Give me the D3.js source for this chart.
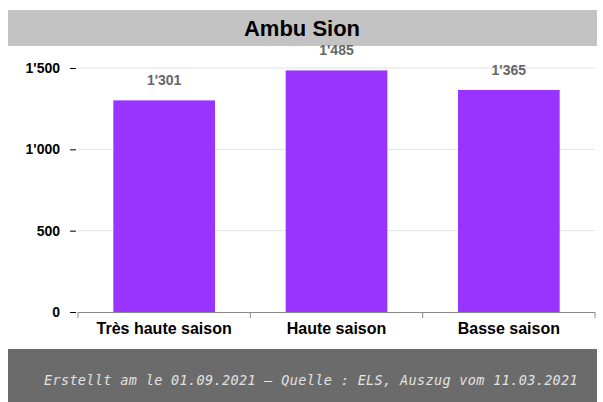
<!DOCTYPE html>
<html><head><meta charset="utf-8">
<script src="https://cdnjs.cloudflare.com/ajax/libs/d3/7.8.5/d3.min.js"></script>
<style>html,body{margin:0;padding:0;background:#fff;}svg{display:block;}</style>
</head><body>
<script>
const categories = ["Très haute saison", "Haute saison", "Basse saison"];
const values = [1301, 1485, 1365];
const yTicks = [0, 500, 1000, 1500];
const title = "Ambu Sion";
const footer = "Erstellt am le 01.09.2021 – Quelle : ELS, Auszug vom 11.03.2021";

const W = 603, H = 402;
const svg = d3.select("body").append("svg").attr("width", W).attr("height", H);
const fmt = v => d3.format(",")(v).replace(/,/g, "'");

// title band
svg.append("rect").attr("x", 8).attr("y", 10).attr("width", 589).attr("height", 36).attr("fill", "#c3c3c3");
svg.append("text").attr("x", 302).attr("y", 36).attr("text-anchor", "middle")
  .attr("font-family", "Liberation Sans, Arial, sans-serif").attr("font-weight", "bold")
  .attr("font-size", 22).attr("fill", "#000").text(title);

const x = d3.scaleBand().domain(categories).range([78, 595]).paddingInner(0.41).paddingOuter(0.205);
const y = d3.scaleLinear().domain([0, 1500]).range([312, 68]);

// gridlines
svg.append("g").selectAll("line").data(yTicks.filter(d => d > 0)).join("line")
  .attr("x1", 78).attr("x2", 595).attr("y1", d => y(d)).attr("y2", d => y(d))
  .attr("stroke", "#e3e3e3").attr("stroke-width", 1);

// bars
svg.append("g").selectAll("rect").data(values).join("rect")
  .attr("x", (d, i) => x(categories[i])).attr("width", x.bandwidth())
  .attr("y", d => y(d)).attr("height", d => y(0) - y(d)).attr("fill", "#9933ff");

// value labels
svg.append("g").selectAll("text").data(values).join("text")
  .attr("x", (d, i) => x(categories[i]) + x.bandwidth() / 2).attr("y", d => y(d) - 15)
  .attr("text-anchor", "middle").attr("font-family", "Liberation Sans, Arial, sans-serif")
  .attr("font-weight", "bold").attr("font-size", 14).attr("fill", "#666").text(fmt);

// y axis
const yAxis = d3.axisLeft(y).tickValues(yTicks).tickFormat(fmt).tickSize(8).tickPadding(10);
const gy = svg.append("g").attr("transform", "translate(78,0)").call(yAxis);
gy.select(".domain").remove();
gy.selectAll(".tick line").attr("stroke", "#000").attr("x1", -8).attr("x2", -2);
gy.selectAll(".tick text").attr("font-family", "Liberation Sans, Arial, sans-serif")
  .attr("font-weight", "bold").attr("font-size", 14).attr("fill", "#000");

// x axis
const xEdges = d3.scaleLinear().domain([0, categories.length]).range([78, 595]);
svg.append("line").attr("x1", 78).attr("x2", 595).attr("y1", 312.5).attr("y2", 312.5).attr("stroke", "#888");
svg.append("g").selectAll("line").data(d3.range(categories.length + 1)).join("line")
  .attr("x1", d => xEdges(d)).attr("x2", d => xEdges(d)).attr("y1", 312).attr("y2", 318).attr("stroke", "#888");
const xAxis = d3.axisBottom(x).tickSize(0).tickPadding(11);
const gx = svg.append("g").attr("transform", "translate(0,312)").call(xAxis);
gx.select(".domain").remove();
gx.selectAll(".tick text").attr("font-family", "Liberation Sans, Arial, sans-serif")
  .attr("font-weight", "bold").attr("font-size", 16).attr("fill", "#000");

// footer
svg.append("rect").attr("x", 8).attr("y", 349).attr("width", 589).attr("height", 53).attr("fill", "#6b6b6b");
svg.append("text").attr("x", 311).attr("y", 385).attr("text-anchor", "middle")
  .attr("font-family", "DejaVu Sans Mono, monospace").attr("font-style", "italic")
  .attr("font-size", 13.5).attr("letter-spacing", 0.35).attr("fill", "#e2e2e2").text(footer);
</script>
</body></html>
